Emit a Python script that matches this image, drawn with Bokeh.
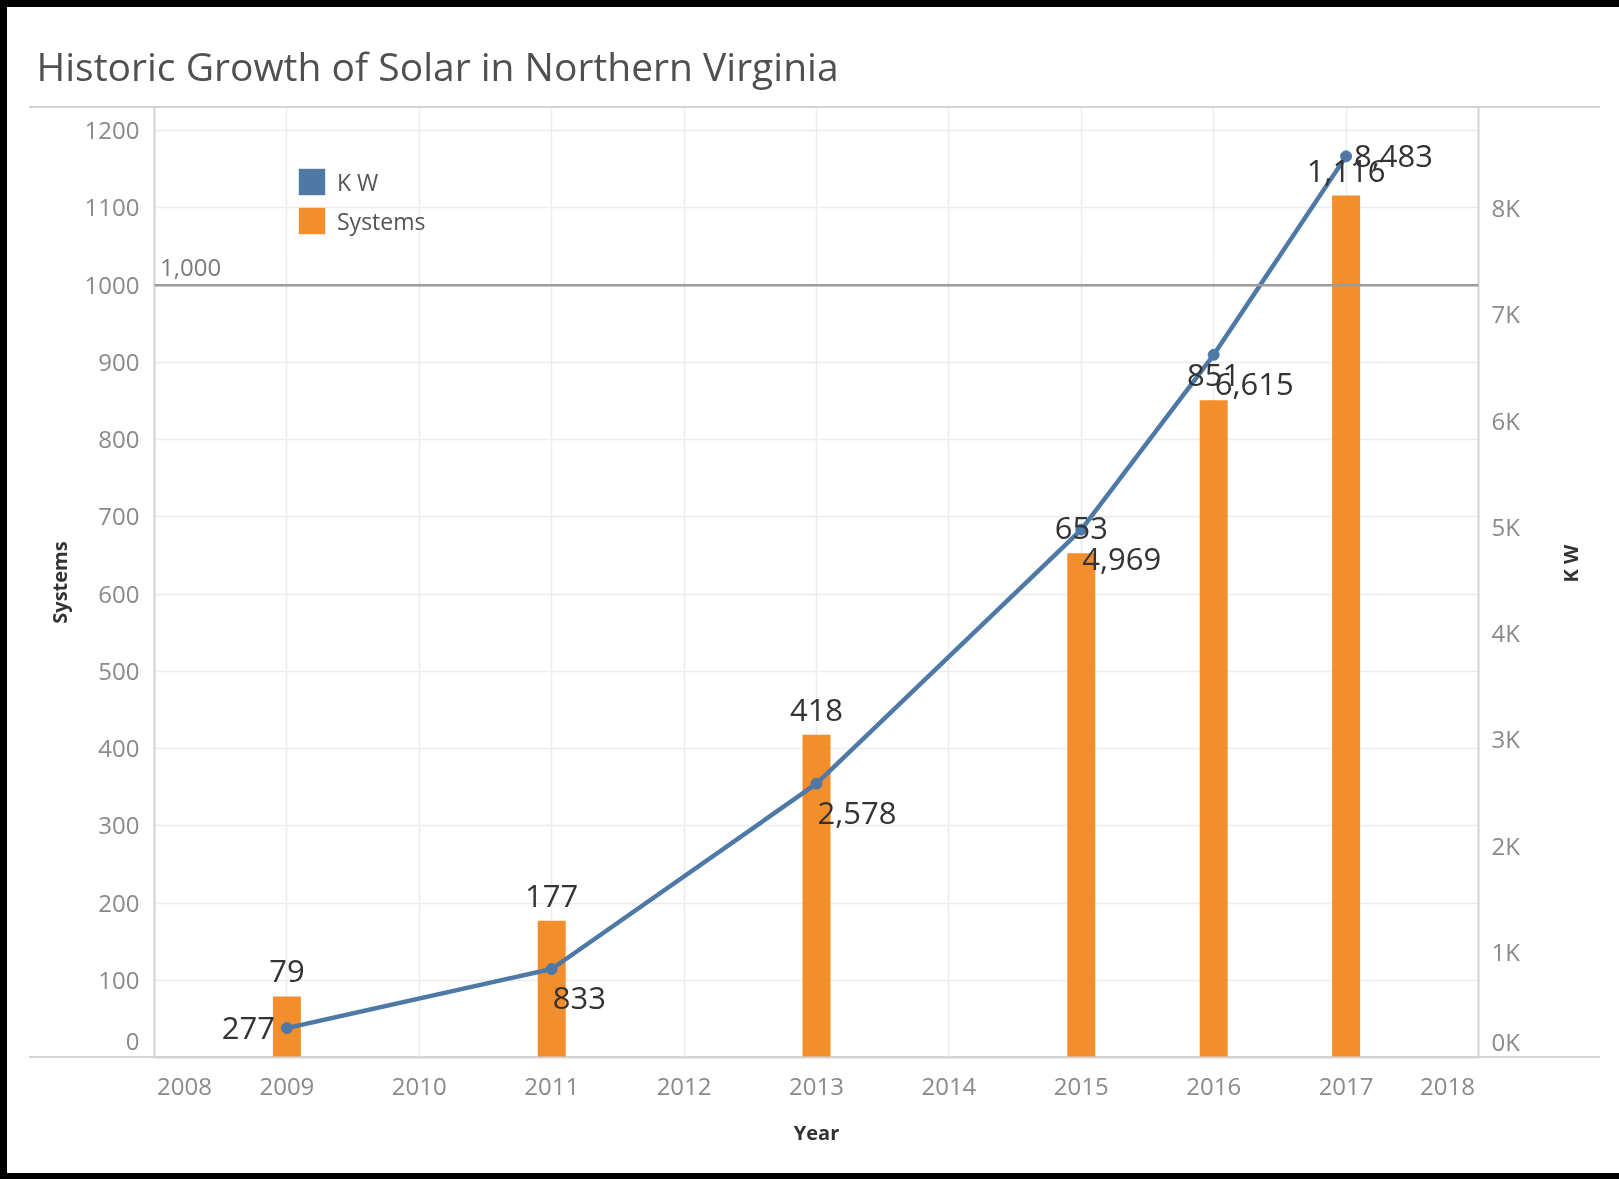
import math
from bokeh.plotting import figure
from bokeh.models import (Range1d, LinearAxis, FixedTicker, ColumnDataSource,
                          Span, Label, Legend, LegendItem)
from bokeh.core.properties import value
from bokeh.embed import file_html
from bokeh.resources import INLINE

# ---------------- data ----------------
title_text = "Historic Growth of Solar in Northern Virginia"
years = [2009, 2011, 2013, 2015, 2016, 2017]
systems = [79, 177, 418, 653, 851, 1116]
kw = [277, 833, 2578, 4969, 6615, 8483]
systems_labels = ["79", "177", "418", "653", "851", "1,116"]
kw_labels = ["277", "833", "2,578", "4,969", "6,615", "8,483"]
year_ticks = [2008, 2009, 2010, 2011, 2012, 2013, 2014, 2015, 2016, 2017, 2018]
year_tick_labels = ["2008", "2009", "2010", "2011", "2012", "2013", "2014",
                    "2015", "2016", "2017", "2018"]
systems_ticks = [0, 100, 200, 300, 400, 500, 600, 700, 800, 900, 1000, 1100, 1200]
systems_tick_labels = ["0", "100", "200", "300", "400", "500", "600", "700",
                       "800", "900", "1000", "1100", "1200"]
kw_ticks = [0, 1000, 2000, 3000, 4000, 5000, 6000, 7000, 8000]
kw_tick_labels = ["0K", "1K", "2K", "3K", "4K", "5K", "6K", "7K", "8K"]
reference_value = 1000
reference_label = "1,000"

# ---------------- style / layout ----------------
BLUE = "#4E79A7"
ORANGE = "#F28E2B"
FONT = "Open Sans"
FRAME_L, FRAME_T = 154, 107
FRAME_W, FRAME_H = 1324, 950
CANVAS_W, CANVAS_H = 1619, 1179
X0, X1 = 2008, 2018
Y_MAX = 1230
KW_MAX = 8943
PX_YEAR = FRAME_W / (X1 - X0)
PX_SYS = FRAME_H / Y_MAX
PX_KW = FRAME_H / KW_MAX
BAR_W = 28 / PX_YEAR

# label placements for the KW series (Tableau-like)
kw_align = ["right", "left", "left", "left", "left", "left"]
kw_dx = [-12, 1, 1, 1, 1, 8]
kw_dy = [0, 29, 29, 29, 29, 0]

p = figure(frame_width=FRAME_W, frame_height=FRAME_H,
           x_range=Range1d(X0, X1), y_range=Range1d(0, Y_MAX),
           output_backend="svg", toolbar_location=None,
           min_border_left=FRAME_L,
           min_border_right=CANVAS_W - FRAME_L - FRAME_W,
           min_border_top=FRAME_T,
           min_border_bottom=CANVAS_H - FRAME_T - FRAME_H)
p.extra_y_ranges = {"kw": Range1d(0, KW_MAX)}

# page frame (black border) and Tableau pane lines, drawn behind the canvas
bg = ", ".join([
    "linear-gradient(#000,#000) 0 0 / 7px 100% no-repeat",
    "linear-gradient(#000,#000) 0 0 / 100% 7px no-repeat",
    "linear-gradient(#000,#000) 0 100% / 100% 6px no-repeat",
    "linear-gradient(#d4d4d4,#d4d4d4) 29px 106px / 1571px 2px no-repeat",
    "linear-gradient(#d4d4d4,#d4d4d4) 29px 1056px / 1571px 2px no-repeat",
])
p.styles = {"background": bg, "position": "fixed", "top": "0px", "left": "0px"}
p.outline_line_color = None
p.background_fill_alpha = 0
p.border_fill_alpha = 0

# title
p.title.text = title_text
p.title.align = "left"
p.title.offset = 36 - FRAME_L
p.title.standoff = 31
p.title.text_font = FONT
p.title.text_font_size = "39px"
p.title.text_font_style = "normal"
p.title.text_color = "#505050"

# grids
p.xgrid.ticker = FixedTicker(ticks=year_ticks)
p.ygrid.ticker = FixedTicker(ticks=systems_ticks[1:])
p.xgrid.grid_line_color = "#ececec"
p.ygrid.grid_line_color = "#ececec"
p.xgrid.grid_line_width = 1.5
p.ygrid.grid_line_width = 1.5

# axes
right_axis = LinearAxis(y_range_name="kw")
p.add_layout(right_axis, "right")

# tick positions: end labels nudged inward like Tableau
x_tick_pos = [X0 + 30 / PX_YEAR] + year_ticks[1:-1] + [X1 - 31 / PX_YEAR]
y_tick_pos = [systems_ticks[0] + 16 / PX_SYS] + systems_ticks[1:]
k_tick_pos = [kw_ticks[0] + 16 / PX_KW] + kw_ticks[1:]

xa = p.xaxis[0]
ya = p.yaxis[0]
xa.ticker = FixedTicker(ticks=x_tick_pos)
xa.major_label_overrides = {t: l for t, l in zip(x_tick_pos, year_tick_labels)}
ya.ticker = FixedTicker(ticks=y_tick_pos)
ya.major_label_overrides = {t: l for t, l in zip(y_tick_pos, systems_tick_labels)}
right_axis.ticker = FixedTicker(ticks=k_tick_pos)
right_axis.major_label_overrides = {t: l for t, l in zip(k_tick_pos, kw_tick_labels)}

xa.axis_label = "Year"
ya.axis_label = "Systems"
right_axis.axis_label = "K W"
right_axis.axis_label_orientation = math.pi / 2

for ax in (xa, ya, right_axis):
    ax.major_tick_line_color = None
    ax.minor_tick_line_color = None
    ax.major_tick_out = 0
    ax.major_tick_in = 0
    ax.minor_tick_out = 0
    ax.axis_line_color = "#d4d4d4"
    ax.axis_line_width = 2
    ax.major_label_text_font = FONT
    ax.major_label_text_font_size = "24px"
    ax.major_label_text_color = "#8a8a8a"
    ax.axis_label_text_font = FONT
    ax.axis_label_text_font_style = "bold"
    ax.axis_label_text_font_size = "20px"
    ax.axis_label_text_color = "#333333"

xa.major_label_standoff = 20
xa.axis_label_standoff = 21
ya.major_label_standoff = 15
ya.axis_label_standoff = 9
right_axis.major_label_standoff = 13
right_axis.axis_label_standoff = 48

src = ColumnDataSource(dict(year=years, systems=systems, kw=kw,
                            s_label=systems_labels, k_label=kw_labels,
                            k_align=kw_align, k_dx=kw_dx, k_dy=kw_dy))

bars = p.vbar(x="year", top="systems", width=BAR_W, source=src,
              fill_color=ORANGE, line_color=None)
# hidden twin used only to give the K W legend entry a square swatch
kw_swatch = p.vbar(x="year", top="kw", width=BAR_W, source=src, y_range_name="kw",
                   fill_color=BLUE, line_color=None, visible=False)

ref = Span(location=reference_value, dimension="width",
           line_color="#9c9c9c", line_width=2.5)
p.add_layout(ref)
p.add_layout(Label(x=X0, y=reference_value, x_offset=5.5, y_offset=18,
                   text=reference_label, text_font=FONT, text_font_size="24px",
                   text_color="#7a7a7a", text_baseline="alphabetic"))

p.line(x="year", y="kw", source=src, y_range_name="kw",
       line_color=BLUE, line_width=4.5)
p.scatter(x="year", y="kw", source=src, y_range_name="kw",
          size=11, fill_color=BLUE, line_color=BLUE)

p.text(x="year", y="systems", text="s_label", source=src,
       text_align="center", text_baseline="alphabetic", y_offset=-25,
       text_font=value(FONT), text_font_size="31px", text_color="#333333")
p.text(x="year", y="kw", text="k_label", source=src, y_range_name="kw",
       text_align="k_align", text_baseline="alphabetic",
       x_offset="k_dx", y_offset="k_dy",
       text_font=value(FONT), text_font_size="31px", text_color="#333333")

# legend
legend = Legend(items=[LegendItem(label="K W", renderers=[kw_swatch]),
                       LegendItem(label="Systems", renderers=[bars])],
                location=(141, 820), orientation="vertical",
                border_line_color=None, background_fill_alpha=0,
                inactive_fill_alpha=0,
                padding=0, margin=0, spacing=6,
                glyph_width=33, glyph_height=33, label_height=33,
                label_standoff=9, label_text_font=FONT,
                label_text_font_size="23px", label_text_color="#555555")
p.add_layout(legend)

open("out.html", "w").write(file_html(p, INLINE))
